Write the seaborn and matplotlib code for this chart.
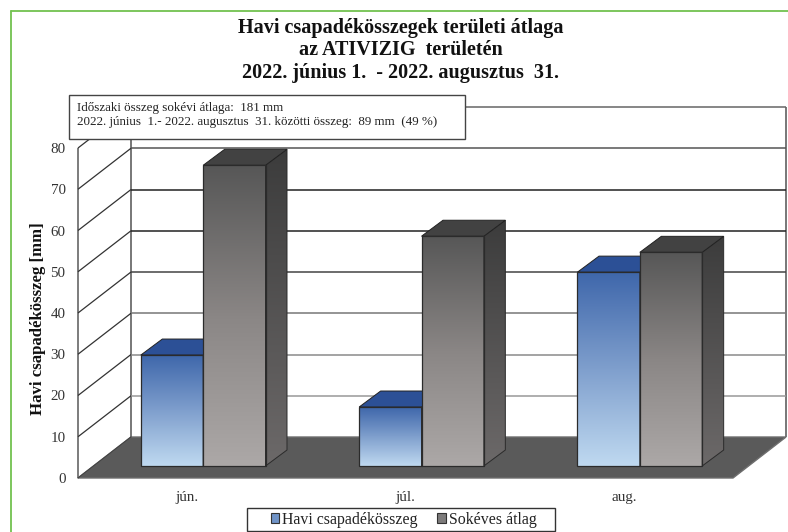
import matplotlib
matplotlib.use("Agg")
import matplotlib.pyplot as plt
import numpy as np
import pandas as pd
import seaborn as sns
from matplotlib.colors import LinearSegmentedColormap
from matplotlib.patches import Patch, Polygon, Rectangle

# adatok
months = ['jún.', 'júl.', 'aug.']
series_names = ['Havi csapadékösszeg', 'Sokéves átlag']
havi = [26.9, 14.3, 47.0]
sokeves = [72.9, 55.7, 51.8]
y_ticks = [0, 10, 20, 30, 40, 50, 60, 70, 80]
title_lines = ['Havi csapadékösszegek területi átlaga',
               'az ATIVIZIG  területén',
               '2022. június 1.  - 2022. augusztus  31.']
box_lines = ['Időszaki összeg sokévi átlaga:  181 mm',
             '2022. június  1.- 2022. augusztus  31. közötti összeg:  89 mm  (49 %)']

W, H = 788, 532
SERIF = 'Liberation Serif'

sns.set_theme(style='white')
plt.rcParams['font.family'] = [SERIF, 'DejaVu Sans']

fig = plt.figure(figsize=(W / 100, H / 100), dpi=100)
ax = fig.add_axes([78 / W, 1 - 478 / H, 655 / W, 330 / H])

df = pd.DataFrame({
    'month': months * 2,
    'series': [series_names[0]] * 3 + [series_names[1]] * 3,
    'value': havi + sokeves,
})
sns.barplot(data=df, x='month', y='value', hue='series', ax=ax, width=0.571,
            gap=0, saturation=1, legend=False, palette=['#6f93c7', '#7d7b7b'])

ax.set_xlim(-0.5, 2.5)
ax.set_ylim(0, 80)
ax.patch.set_alpha(0)
for s in ax.spines.values():
    s.set_visible(False)


# pixel -> adat
def px_x(p):
    return p * 3 / 655


def px_y(p):
    return p * 80 / 330


wall_dx, wall_dy = px_x(53), px_y(41)
bar_dx, bar_dy = px_x(16), px_y(12)
depth_dx, depth_dy = px_x(21.5), px_y(16)
x0, x1 = -0.5, 2.5

# fal es padlo
wall_kw = dict(clip_on=False, zorder=1, solid_capstyle='butt')
grid_colors = {10: '#999999', 20: '#8a8a8a', 30: '#777777', 40: '#444444',
               50: '#222222', 60: '#222222', 70: '#555555', 80: '#666666'}
ax.add_patch(Polygon([(x0, 0), (x0 + wall_dx, wall_dy), (x1 + wall_dx, wall_dy), (x1, 0)],
                     closed=True, fc='#5a5a5a', ec='#6e6e6e', lw=1, clip_on=False, zorder=1.5))
ax.plot([x0, x0], [0, 80], color='#666666', lw=1.2, **wall_kw)
ax.plot([x0 + wall_dx] * 2, [wall_dy, 80 + wall_dy], color='#777777', lw=1.4, **wall_kw)
ax.plot([x1 + wall_dx] * 2, [wall_dy, 80 + wall_dy], color='#777777', lw=1.4, **wall_kw)
for t in y_ticks[1:]:
    ax.plot([x0 + wall_dx, x1 + wall_dx], [t + wall_dy] * 2, color=grid_colors[t], lw=1.1, **wall_kw)
    ax.plot([x0, x0 + wall_dx], [t, t + wall_dy], color='#333333', lw=0.9, **wall_kw)
ax.plot([x0, x0 + wall_dx], [0, wall_dy], color='#444444', lw=0.9, clip_on=False, zorder=1.6)

# oszlopok szinatmenettel
front_maps = [LinearSegmentedColormap.from_list('b', ['#3f67ab', '#7f9fcd', '#bfd9f0']),
              LinearSegmentedColormap.from_list('g', ['#575757', '#8a8685', '#aca8a7'])]
side_maps = [LinearSegmentedColormap.from_list('bs', ['#2a4c8f', '#5a7db5']),
             LinearSegmentedColormap.from_list('gs', ['#3c3c3c', '#6c6969'])]
top_colors = ['#2c5096', '#424242']
grad = np.linspace(0, 1, 128).reshape(-1, 1)

for i, cont in enumerate(ax.containers):
    z = 2 + i
    for bar in cont:
        bx0 = bar.get_x() + bar_dx
        bx1 = bx0 + bar.get_width()
        val = bar.get_height()
        by0, by1 = bar_dy, bar_dy + val
        bar.set_x(bx0)
        bar.set_y(by0)
        bar.set(facecolor='none', edgecolor='#2b2b2b', linewidth=0.9, clip_on=False, zorder=z + 0.3)

        im = ax.imshow(grad, extent=[bx0, bx1, by0, by1], aspect='auto', cmap=front_maps[i],
                       zorder=z, interpolation='bilinear', origin='upper')
        im.set_clip_path(bar)

        side = Polygon([(bx1, by0), (bx1 + depth_dx, by0 + depth_dy),
                        (bx1 + depth_dx, by1 + depth_dy), (bx1, by1)],
                       closed=True, fc='none', ec='#2b2b2b', lw=0.7, clip_on=False, zorder=z + 0.2)
        ax.add_patch(side)
        im2 = ax.imshow(grad, extent=[bx1, bx1 + depth_dx, by0, by1 + depth_dy], aspect='auto',
                        cmap=side_maps[i], zorder=z + 0.1, interpolation='bilinear', origin='upper')
        im2.set_clip_path(side)

        ax.add_patch(Polygon([(bx0, by1), (bx1, by1), (bx1 + depth_dx, by1 + depth_dy),
                              (bx0 + depth_dx, by1 + depth_dy)],
                             closed=True, fc=top_colors[i], ec='#222222', lw=0.7,
                             clip_on=False, zorder=z + 0.2))

ax.set_xlim(x0, x1)
ax.set_ylim(0, 80)
ax.set_xlabel('')
ax.set_ylabel('')
ax.set_yticks(y_ticks)
ax.set_yticklabels(y_ticks)
ax.tick_params(axis='y', length=0, pad=9, labelsize=10.8, labelcolor='#333333')
ax.tick_params(axis='x', length=0, pad=9, labelsize=10.8, labelcolor='#333333')

fig.text(38 / W, 1 - 319 / H, 'Havi csapadékösszeg [mm]', rotation=90, ha='center', va='center',
         fontsize=12.1, fontweight='bold', color='#111111')

# cim
for line, y in zip(title_lines, [28, 50, 73]):
    fig.text(401 / W, 1 - y / H, line, ha='center', va='center',
             fontsize=14.5, fontweight='bold', color='#111111')

# szovegdoboz
fig.add_artist(Rectangle((69 / W, 1 - 139 / H), 396 / W, 44 / H, transform=fig.transFigure,
                         fc='white', ec='#444444', lw=1, zorder=5))
for line, y in zip(box_lines, [108, 122]):
    fig.text(77 / W, 1 - y / H, line, ha='left', va='center', fontsize=9.4,
             color='#222222', zorder=6)

# zold keret
fig.add_artist(plt.Line2D([11 / W, 11 / W], [0, 1 - 11 / H], color='#72c24f', lw=1.3, zorder=4))
fig.add_artist(plt.Line2D([11 / W, 1], [1 - 11 / H, 1 - 11 / H], color='#72c24f', lw=1.3, zorder=4))

# jelmagyarazat
fig.add_artist(Rectangle((247 / W, 1 - 531 / H), 308 / W, 23 / H, transform=fig.transFigure,
                         fc='white', ec='#333333', lw=1, zorder=-1))
handles = [Patch(fc='#6f93c7', ec='#333333', lw=0.8), Patch(fc='#7d7b7b', ec='#333333', lw=0.8)]
leg = ax.legend(handles, series_names, loc='center', ncols=2,
                bbox_to_anchor=(403.5 / W, 1 - 519.5 / H), bbox_transform=fig.transFigure,
                frameon=False, fontsize=11.4,
                handlelength=0.55, handleheight=0.55, handletextpad=0.2, columnspacing=1.2,
                borderpad=0, borderaxespad=0)
leg.set_zorder(10)
for t in leg.get_texts():
    t.set_color('#222222')

fig.savefig('out.png', dpi=100)
